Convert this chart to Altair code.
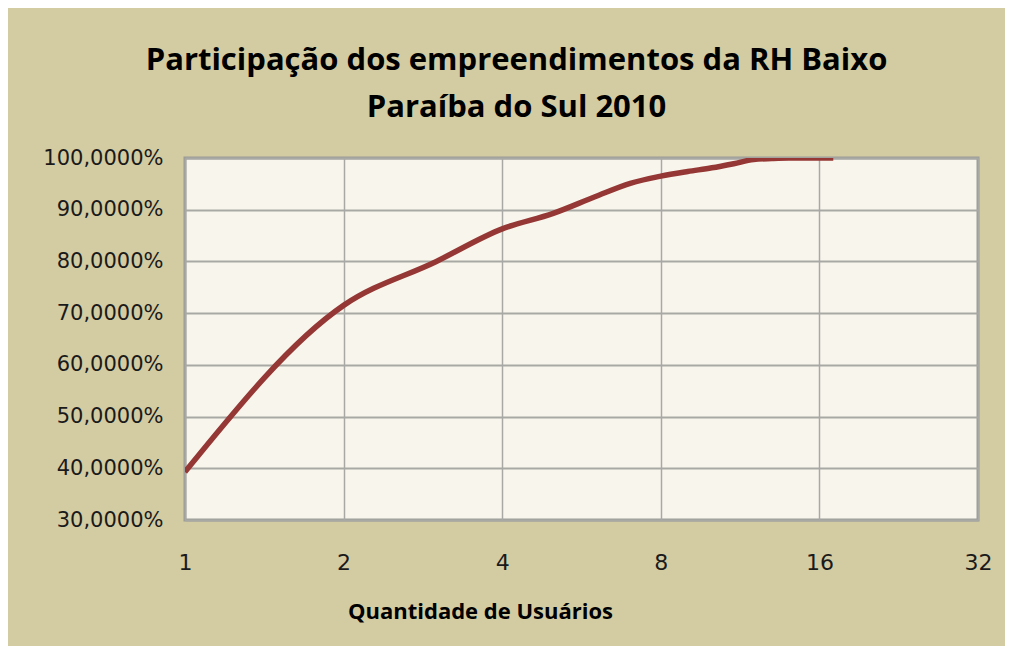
import altair as alt
import pandas as pd

usuarios = [1, 2, 3, 4, 5, 6, 7, 8, 9, 10, 11, 12, 13, 14, 15, 16, 17]
participacao = [0.393, 0.715, 0.800, 0.863, 0.893, 0.925, 0.951, 0.965, 0.974,
                0.981, 0.989, 0.997, 0.999, 1.0, 1.0, 1.0, 1.0]
x_ticks = [1, 2, 4, 8, 16, 32]
y_ticks = [0.3, 0.4, 0.5, 0.6, 0.7, 0.8, 0.9, 1.0]

df = pd.DataFrame({"usuarios": usuarios, "participacao": participacao})

chart = alt.Chart(df).mark_line(
    color="#953735", strokeWidth=5.5, interpolate="monotone", clip=True,
    strokeCap="butt"
).encode(
    x=alt.X("usuarios:Q",
            scale=alt.Scale(type="log", base=2, domain=[1, 32], nice=False),
            axis=alt.Axis(values=x_ticks, format="d", title="Quantidade de Usuários",
                          labelPadding=32, labelBaseline="top", labelFlush=False,
                          ticks=False, domain=False,
                          gridColor="#a8a8a4", gridWidth=1.5,
                          labelFont="DejaVu Sans", labelFontSize=22, labelColor="#1a1a1a",
                          titleFont="Open Sans", titleFontSize=22, titleFontWeight="bold",
                          titleColor="#000000", titleX=295, titleY=98,
                          titleAlign="center", titleBaseline="alphabetic")),
    y=alt.Y("participacao:Q",
            scale=alt.Scale(domain=[0.3, 1.0], nice=False),
            axis=alt.Axis(values=y_ticks, title=None, ticks=False, domain=False,
                          labelExpr="replace(format(datum.value, '.4%'), '.', ',')",
                          labelPadding=22, gridColor="#a8a8a4", gridWidth=2,
                          labelFont="DejaVu Sans", labelFontSize=21, labelColor="#1a1a1a")),
).properties(
    width=793,
    height=362,
    padding={"left": 177, "top": 150, "right": 27, "bottom": 126},
    autosize=alt.AutoSizeParams(type="none"),
    background="#d3cba2",
    title=alt.TitleParams(
        text=["Participação dos empreendimentos da RH Baixo", "Paraíba do Sul 2010"],
        font="Open Sans", fontSize=31, fontWeight="bold", color="#000000",
        anchor="middle", dx=-65, lineHeight=47, offset=23,
    ),
).configure_view(
    fill="#f8f6ec", stroke="#9c9c98", strokeWidth=3
)

chart.save("out.html", embed_options={"renderer": "svg", "actions": False})
